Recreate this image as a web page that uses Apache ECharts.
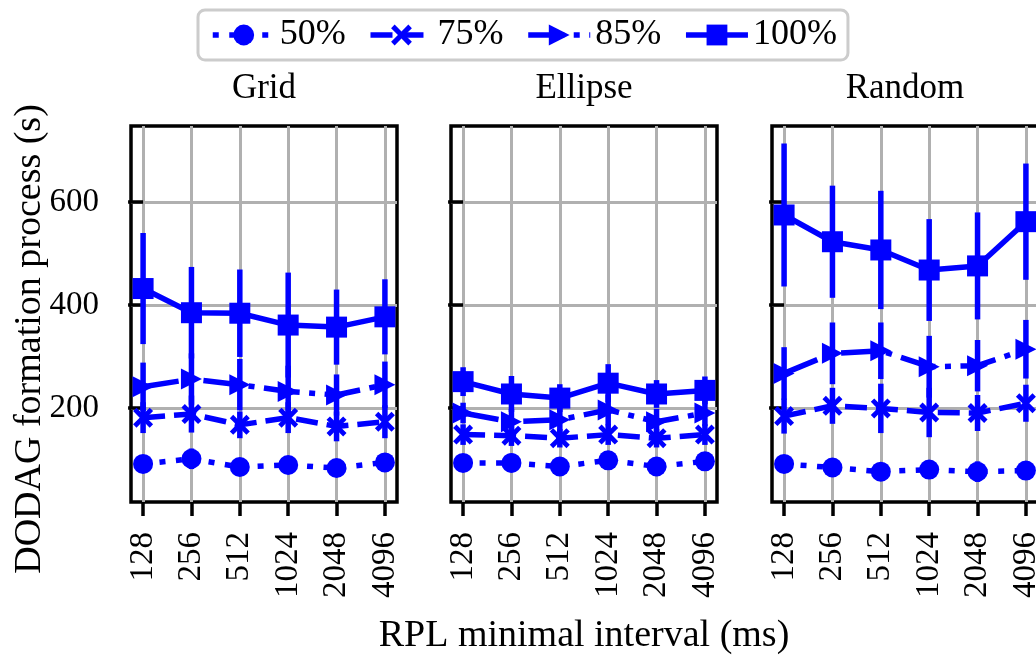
<!DOCTYPE html>
<html>
<head>
<meta charset="utf-8">
<script src="https://cdn.jsdelivr.net/npm/echarts@6/dist/echarts.min.js"></script>
<style>html,body{margin:0;padding:0;background:#fff;}#c{width:1036px;height:657px;}</style>
</head>
<body>
<div id="c"></div>
<script>
const categories = ['128', '256', '512', '1024', '2048', '4096'];
const panelTitles = ['Grid', 'Ellipse', 'Random'];
const levels = ['50%', '75%', '85%', '100%'];
const yTicks = [200, 400, 600];

const grid50 = [91, 101, 85, 89, 83, 94];
const grid50Err = [10, 20, 10, 12, 12, 10];
const grid75 = [181, 188, 167, 181, 164, 173];
const grid75Err = [30, 36, 26, 30, 29, 32];
const grid85 = [241, 256, 245, 232, 225, 245];
const grid85Err = [47, 50, 50, 50, 40, 45];
const grid100 = [432, 385, 384, 361, 357, 377];
const grid100Err = [108, 89, 85, 102, 73, 73];

const ellipse50 = [93, 93, 86, 98, 86, 96];
const ellipse50Err = [10, 18, 10, 15, 10, 10];
const ellipse75 = [148, 146, 141, 148, 141, 148];
const ellipse75Err = [20, 20, 18, 20, 18, 20];
const ellipse85 = [190, 173, 177, 196, 173, 190];
const ellipse85Err = [20, 25, 25, 30, 25, 25];
const ellipse100 = [251, 227, 219, 248, 227, 234];
const ellipse100Err = [28, 35, 27, 37, 27, 27];

const random50 = [91, 84, 76, 80, 76, 78];
const random50Err = [10, 15, 10, 12, 20, 12];
const random75 = [184, 204, 199, 191, 190, 209];
const random75Err = [34, 35, 48, 48, 35, 36];
const random85 = [267, 306, 311, 280, 282, 314];
const random85Err = [51, 60, 55, 60, 50, 57];
const random100 = [575, 523, 507, 468, 476, 562];
const random100Err = [139, 109, 115, 99, 104, 113];

const panelValues = [
  [grid50, grid75, grid85, grid100],
  [ellipse50, ellipse75, ellipse85, ellipse100],
  [random50, random75, random85, random100]
];
const panelErrors = [
  [grid50Err, grid75Err, grid85Err, grid100Err],
  [ellipse50Err, ellipse75Err, ellipse85Err, ellipse100Err],
  [random50Err, random75Err, random85Err, random100Err]
];

const BLUE = '#0000ff';
const FONT = 'Liberation Serif';
const LW = 5.5;
const symbols = [
  'circle',
  'path://M0,17 L17,0 L50,33 L83,0 L100,17 L67,50 L100,83 L83,100 L50,67 L17,100 L0,83 L33,50 Z',
  'path://M0,0 L100,50 L0,100 Z',
  'rect'
];
const symbolSizes = [20, 20, 21, 21];
const dashes = [[6, 10.5], [22, 9], [36, 9.5, 6, 9.5], 'solid'];

const panelLeft = [131, 451, 772];
const panelWidth = 266;
const panelTop = 126;
const panelHeight = 376;

const grids = [], xAxes = [], yAxes = [], series = [];
for (let p = 0; p < 3; p++) {
  grids.push({ left: panelLeft[p], top: panelTop, width: panelWidth, height: panelHeight,
    show: true, borderColor: '#000', borderWidth: 3.5, backgroundColor: 'transparent',
    containLabel: false, outerBoundsMode: 'none' });
  xAxes.push({
    type: 'value', gridIndex: p, min: -0.25, max: 5.25,
    axisLine: { show: false },
    axisTick: { show: true, length: 14, customValues: [0, 1, 2, 3, 4, 5], lineStyle: { color: '#000', width: 3.5 } },
    axisLabel: { show: true, customValues: [0, 1, 2, 3, 4, 5], rotate: 90, margin: 30,
      fontFamily: FONT, fontSize: 33, color: '#000', hideOverlap: false,
      formatter: v => categories[Math.round(v)] },
    splitLine: { show: true, lineStyle: { color: '#b0b0b0', width: 3 } }
  });
  yAxes.push({
    type: 'value', gridIndex: p, min: 17, max: 748,
    axisLine: { show: false },
    axisTick: { show: true, length: 15, customValues: yTicks, lineStyle: { color: '#000', width: 3.5 } },
    axisLabel: { show: p === 0, customValues: yTicks, margin: 32, fontFamily: FONT, fontSize: 33, color: '#000' },
    splitLine: { show: true, lineStyle: { color: '#b0b0b0', width: 3 } }
  });
  for (let l = 0; l < 4; l++) {
    const vals = panelValues[p][l];
    const errs = panelErrors[p][l];
    series.push({
      name: levels[l] + ' err', type: 'custom', xAxisIndex: p, yAxisIndex: p, z: 2 + 2 * l,
      data: vals.map((v, i) => [i, v - errs[i], v + errs[i]]),
      encode: { x: 0, y: [1, 2] },
      renderItem: function (params, api) {
        const a = api.coord([api.value(0), api.value(1)]);
        const b = api.coord([api.value(0), api.value(2)]);
        return { type: 'line', shape: { x1: a[0], y1: a[1], x2: b[0], y2: b[1] },
          style: { stroke: BLUE, lineWidth: LW } };
      },
      silent: true
    });
    series.push({
      name: levels[l], type: 'line', xAxisIndex: p, yAxisIndex: p, z: 3 + 2 * l,
      data: vals.map((v, i) => [i, v]),
      symbol: symbols[l], symbolSize: symbolSizes[l], symbolKeepAspect: true, showSymbol: true,
      itemStyle: { color: BLUE, borderWidth: 0 },
      lineStyle: { color: BLUE, width: LW, type: dashes[l], cap: 'butt' },
      emphasis: { disabled: true }
    });
  }
}

const option = {
  animation: false,
  backgroundColor: '#fff',
  grid: grids, xAxis: xAxes, yAxis: yAxes, series: series,
  legend: {
    data: levels, left: 198, top: 10, orient: 'horizontal',
    itemWidth: 62, itemHeight: 26, itemGap: 22,
    padding: [7, 11, 7, 12],
    borderColor: '#cccccc', borderWidth: 3, borderRadius: 7, backgroundColor: '#fff',
    lineStyle: { width: LW },
    textStyle: { fontFamily: FONT, fontSize: 36, color: '#000' },
    selectedMode: false
  },
  graphic: [
    { type: 'text', x: panelLeft[0] + panelWidth / 2, y: 89, style: { text: panelTitles[0], font: '35px "Liberation Serif"', fill: '#000', align: 'center', verticalAlign: 'middle' } },
    { type: 'text', x: panelLeft[1] + panelWidth / 2, y: 89, style: { text: panelTitles[1], font: '35px "Liberation Serif"', fill: '#000', align: 'center', verticalAlign: 'middle' } },
    { type: 'text', x: panelLeft[2] + panelWidth / 2, y: 89, style: { text: panelTitles[2], font: '35px "Liberation Serif"', fill: '#000', align: 'center', verticalAlign: 'middle' } },
    { type: 'text', x: 30, y: 339, rotation: Math.PI / 2, style: { text: 'DODAG formation process (s)', font: '38px "Liberation Serif"', fill: '#000', align: 'center', verticalAlign: 'middle' } },
    { type: 'text', x: 584, y: 636, style: { text: 'RPL minimal interval (ms)', font: '38px "Liberation Serif"', fill: '#000', align: 'center', verticalAlign: 'middle' } }
  ]
};
const chart = echarts.init(document.getElementById('c'), null, { renderer: 'canvas' });
chart.setOption(option);
</script>
</body>
</html>
